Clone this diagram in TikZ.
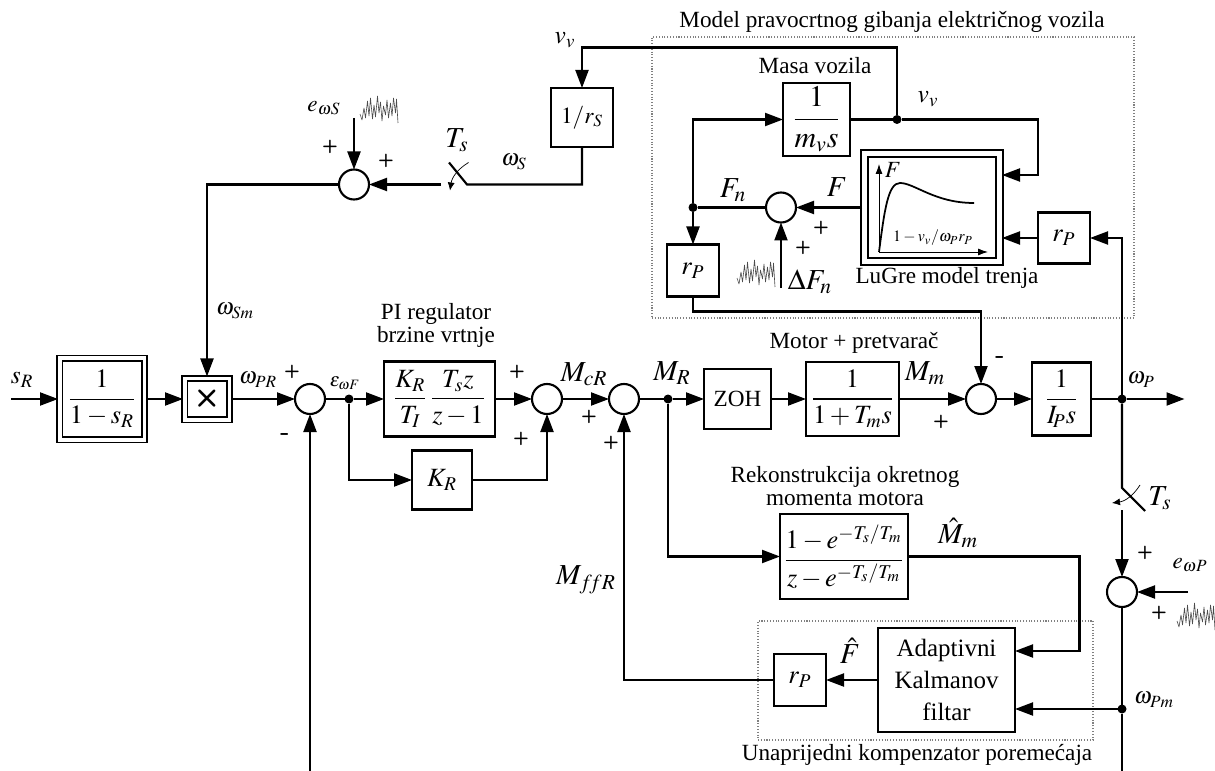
\documentclass[tikz,border=0pt]{standalone}
\usepackage{amsmath}
\usepackage{mathptmx}
\usepackage{fontspec}
\setmainfont{Liberation Serif}
\usepackage{tikz}
\usetikzlibrary{arrows.meta,positioning,calc}

\begin{document}
\begin{tikzpicture}[
        every node/.style={font=\fontsize{13.2}{13.5}\selectfont},
        box/.style 2 args={rectangle,draw,line width=1.2pt,inner sep=0pt,outer sep=0pt,minimum width=#1cm,minimum height=#2cm,align=center,font=\fontsize{15}{15}\selectfont},
        doublebox/.style 2 args={rectangle,draw,line width=1pt,double,double distance=#1cm,inner sep=0pt,outer sep=#1/2*1cm,minimum width=#2cm,align=center,font=\fontsize{15}{15}\selectfont},
        sumcircle/.style={circle,draw,line width=1.2pt,minimum size=0.6cm,inner sep=0pt,outer sep=0pt},
        dot/.style={circle,fill,minimum size=0.18cm,inner sep=0pt,outer sep=0pt},
        arrow/.style={-{Triangle[length=3.6mm,width=2.6mm]},line width=1.2pt},
        wire/.style={line width=1.2pt},
        swarrow/.style={-{Latex[length=1.6mm,width=1.4mm]},line width=0.4pt},
        axis/.style={-{Latex[length=2mm,width=1.4mm]},line width=0.5pt},
        lbl/.style={inner sep=0pt,outer sep=0pt},
        lblm/.style={inner sep=0pt,outer sep=0pt,font=\fontsize{14.5}{14.5}\selectfont},
        lblv/.style={inner sep=0pt,outer sep=0pt,font=\fontsize{16.5}{16.5}\selectfont},
        sign/.style={inner sep=0pt,outer sep=0pt,font=\sffamily\bfseries\fontsize{10.5}{10.5}\selectfont},
        minus/.style={inner sep=0pt,outer sep=0pt,font=\sffamily\bfseries\fontsize{15}{15}\selectfont},
        frame/.style={rectangle,draw=gray,densely dotted,line width=0.6pt,inner sep=0pt},
        noise/.pic={\draw[black!70,line width=0.35pt,line join=bevel]
            (0,0.18) -- (0.04,0.06) -- (0.08,0.30) -- (0.11,0.10) -- (0.15,0.44) -- (0.18,0.14) -- (0.21,0.50)
            -- (0.25,0.08) -- (0.28,0.36) -- (0.31,0.12) -- (0.35,0.54) -- (0.38,0.20) -- (0.41,0.42) -- (0.44,0.04)
            -- (0.47,0.34) -- (0.51,0.16) -- (0.54,0.46) -- (0.57,0.10) -- (0.61,0.40) -- (0.64,0.14) -- (0.67,0.50)
            -- (0.71,0.20) -- (0.73,0.48) -- (0.76,0);}
    ]
        \useasboundingbox (0,0) rectangle (24.3,-15.42);

        % glavna grana
        \coordinate (ulaz) at (0.22,-7.98);
        \node[doublebox={0.07}{1.69}, minimum height=1.63cm, right=0.94cm of ulaz] (rampa) {$\dfrac{1}{1-s_R}$};
        \node[doublebox={0.07}{0.89}, minimum height=0.83cm, right=0.74cm of rampa, font=\sffamily\bfseries\fontsize{18}{18}\selectfont] (mnozenje) {×};
        \node[sumcircle, right=1.28cm of mnozenje] (sumW) {};
        \node[dot, right=0.39cm of sumW] (cvorE) {};
        \node[box={2.22}{1.5}, right=0.61cm of cvorE] (pireg) {$\dfrac{K_R}{T_I}\,\dfrac{T_s z}{z-1}$};
        \node[sumcircle, right=0.74cm of pireg] (sumP) {};
        \node[sumcircle, right=0.94cm of sumP] (sumM) {};
        \node[dot, right=0.49cm of sumM] (cvorM) {};
        \node[box={1.34}{1.2}, right=0.63cm of cvorM, font=\fontsize{13.2}{13.5}\selectfont] (zoh) {ZOH};
        \node[box={1.86}{1.48}, right=0.7cm of zoh] (motor) {$\dfrac{1}{1+T_m s}$};
        \node[sumcircle, right=1.34cm of motor] (sumT) {};
        \node[box={1.18}{1.46}, right=0.72cm of sumT] (inercija) {$\dfrac{1}{I_{\!P} s}$};
        \node[dot, right=0.53cm of inercija] (cvorP) {};
        \coordinate[right=1.16cm of cvorP] (izlaz);

        \node[box={1.2}{1.18}, below=0.28cm of pireg, xshift=0.05cm] (kr) {$K_R$};

        % donja grana
        \node[box={2.56}{1.7}, below=1.56cm of motor, xshift=-0.17cm] (rekon) {$\dfrac{1-e^{-T_s/T_m}}{z-e^{-T_s/T_m}}$};
        \node[box={2.74}{2.08}, below=0.58cm of rekon, xshift=2.05cm, font=\fontsize{14.2}{18}\selectfont] (kalman) {Adaptivni\\Kalmanov\\filtar};
        \node[box={1.04}{1.04}, left=1.04cm of kalman] (rpF) {$r_P$};
        \coordinate (kalmanA) at ($(kalman.east)+(0,0.58)$);
        \coordinate (kalmanB) at ($(kalman.east)+(0,-0.58)$);
        \node[sumcircle, below=3.47cm of cvorP] (sumE) {};
        \node[dot] (cvorPm) at (cvorP |- kalmanB) {};
        \coordinate (dnoP) at ($(cvorP)+(0,-7.44)$);
        \coordinate (dnoW) at ($(sumW)+(0,-7.44)$);
        \coordinate (swPa) at ($(cvorP)+(0,-1.78)$);
        \coordinate (swPb) at ($(cvorP)+(0,-2.22)$);
        \coordinate (ulazEP) at ($(sumE)+(1.32,0)$);

        % gornja grana
        \node[sumcircle] (sumS) at ($(mnozenje)+(2.94,4.29)$) {};
        \node[box={1.24}{1.18}, font=\fontsize{13.2}{13.5}\selectfont] (rs) at ($(sumS)+(4.56,1.34)$) {$1/r_S$};
        \coordinate (swSr) at ($(sumS)+(2.26,0)$);
        \coordinate (swSl) at ($(sumS)+(1.74,0)$);
        \coordinate (ulazES) at ($(sumS)+(0,1.33)$);

        % model vozila
        \node[box={1.34}{1.46}, above=4.12cm of motor, xshift=-0.72cm, font=\fontsize{17}{17}\selectfont] (masa) {$\dfrac{1}{m_v s}$};
        \node[dot, right=0.85cm of masa] (cvorV) {};
        \node[doublebox={0.1}{2.7}, minimum height=2.16cm] (lugre) at ($(masa)+(2.31,-1.76)$) {};
        \node[sumcircle, left=1.32cm of lugre] (sumF) {};
        \node[dot, left=1.37cm of sumF] (cvorF) {};
        \node[box={1.04}{1.04}, below=0.65cm of cvorF] (rpL) {$r_P$};
        \node[box={1.04}{1.02}, right=0.72cm of lugre, yshift=-0.61cm] (rpD) {$r_P$};
        \coordinate (lugreA) at ($(lugre.east)+(0,0.65)$);
        \coordinate (lugreB) at (lugre.east |- rpD);
        \coordinate (ulazDF) at ($(sumF)+(0,-1.61)$);

        % okviri
        \node[frame, minimum width=9.64cm, minimum height=5.62cm] (okvirM) at ($(masa)+(1.53,-1.16)$) {};
        \node[frame, minimum width=6.7cm, minimum height=2.38cm] (okvirK) at ($(kalman)+(-0.42,-0.01)$) {};

        % karakteristika trenja
        \begin{scope}[shift={(lugre.center)}]
            \coordinate (osO) at (-1.06,-0.89);
            \draw[axis] (osO) -- (-1.06,0.87);
            \draw[axis] (osO) -- (1.12,-0.89);
            \draw[line width=1pt] (osO) .. controls (-0.95,-0.05) and (-0.88,0.49) .. (-0.64,0.49)
                .. controls (-0.35,0.49) and (0.05,0.09) .. (0.84,0.09);
            \node[lbl] (osF) at (-0.78,0.75) {$F$};
            \node[lbl, font=\fontsize{9}{9}\selectfont] (osX) at (0.02,-0.61) {$1-v_v/\omega_P r_P$};
        \end{scope}

        % veze
        \draw[arrow] (ulaz) -- (rampa);
        \draw[arrow] (rampa) -- (mnozenje);
        \draw[arrow] (mnozenje) -- (sumW);
        \draw[wire] (sumW) -- (cvorE);
        \draw[arrow] (cvorE) -- (pireg);
        \draw[arrow] (pireg) -- (sumP);
        \draw[arrow] (sumP) -- (sumM);
        \draw[wire] (sumM) -- (cvorM);
        \draw[arrow] (cvorM) -- (zoh);
        \draw[arrow] (zoh) -- (motor);
        \draw[arrow] (motor) -- (sumT);
        \draw[arrow] (sumT) -- (inercija);
        \draw[wire] (inercija) -- (cvorP);
        \draw[arrow] (cvorP) -- (izlaz);

        \draw[arrow] (cvorE) |- (kr.west);
        \draw[arrow] (kr.east) -| (sumP.south);
        \draw[arrow] (cvorM) |- (rekon.west);
        \draw[arrow] (rekon.east) -- ++(3.43,0) |- (kalmanA);
        \draw[arrow] (cvorPm) -- (kalmanB);
        \draw[arrow] (kalman.west) -- (rpF.east);
        \draw[arrow] (rpF.west) -| (sumM.south);
        \draw[arrow] (dnoW) -- (sumW.south);

        \draw[wire] (cvorP) -- (swPa) -- ++(0.46,-0.46);
        \draw[arrow] (swPb) -- (sumE.north);
        \draw[wire] (sumE.south) -- (cvorPm) -- (dnoP);
        \draw[arrow] (ulazEP) -- (sumE.east);
        \draw[swarrow] ($(swPa)+(0.36,0.06)$) to[bend left=25] ($(swPa)+(-0.20,-0.30)$);

        \draw[arrow] (sumS.west) -| (mnozenje.north);
        \draw[arrow] (ulazES) -- (sumS.north);
        \draw[arrow] (swSl) -- (sumS.east);
        \draw[wire] (rs.south) |- (swSr) -- ++(-0.36,0.44);
        \draw[swarrow] ($(swSr)+(0.03,0.44)$) to[bend right=25] ($(swSr)+(-0.34,-0.12)$);

        \draw[wire] (masa.east) -- (cvorV);
        \draw[arrow] (cvorV) -- ++(0,1.44) -| (rs.north);
        \draw[arrow] (cvorV) -- ++(2.82,0) |- (lugreA);
        \draw[arrow] (rpD.west) -- (lugreB);
        \draw[arrow] (cvorP) |- (rpD.east);
        \draw[arrow] (lugre.west) -- (sumF.east);
        \draw[wire] (sumF.west) -- (cvorF);
        \draw[arrow] (cvorF) |- (masa.west);
        \draw[arrow] (cvorF) -- (rpL.north);
        \draw[arrow] (ulazDF) -- (sumF.south);
        \draw[arrow] (rpL.south) -- ++(0,-0.3) -| (sumT.north);

        % sumovi
        \pic (sumA) at ($(sumS)+(0.12,1.23)$) {noise};
        \pic (sumB) at ($(sumF)+(-0.88,-1.59)$) {noise};
        \pic (sumC) at ($(sumE)+(1.10,-0.76)$) {noise};

        % oznake
        \node[lblm] (tSr) at ($(ulaz)+(0.22,0.38)$) {$s_R$};
        \node[lbl] (tWpr) at ($(mnozenje)+(1.02,0.38)$) {$\omega_{PR}$};
        \node[lbl, font=\fontsize{11}{11}\selectfont] (tEps) at ($(cvorE)+(-0.08,0.32)$) {$\varepsilon_{\omega F}$};
        \node[lbl,align=center] (tPi) at ($(pireg)+(-0.07,1.47)$) {PI regulator\\brzine vrtnje};
        \node[lblv] (tMcr) at ($(sumP)+(0.74,0.5)$) {$M_{cR}$};
        \node[lblv] (tMr) at ($(cvorM)+(0.08,0.52)$) {$M_R$};
        \node[lblv] (tMm) at ($(sumT)+(-1.12,0.52)$) {$M_m$};
        \node[lbl] (tWp) at ($(cvorP)+(0.38,0.38)$) {$\omega_P$};
        \node[lbl] (tMotor) at ($(motor)+(0.03,1.12)$) {Motor + pretvarač};
        \node[lbl,align=center] (tRekon) at ($(rekon)+(0.02,1.41)$) {Rekonstrukcija okretnog\\momenta motora};
        \node[lblv] (tMhat) at ($(rekon)+(2.28,0.47)$) {$\hat{M}_m$};
        \node[lblv] (tMff) at ($(sumM)+(-0.76,-3.62)$) {$M_{f\!fR}$};
        \node[lblv] (tFhat) at ($(rpF)+(1,0.58)$) {$\hat{F}$};
        \node[lbl] (tWpm) at ($(cvorPm)+(0.64,0.18)$) {$\omega_{Pm}$};
        \node[lbl] (tKomp) at ($(kalman)+(-0.59,-1.5)$) {Unaprijedni kompenzator poremećaja};
        \node[lbl] (tEwp) at ($(sumE)+(1.36,0.54)$) {$e_{\omega P}$};
        \node[lblv] (tTsP) at ($(swPa)+(0.76,-0.2)$) {$T_s$};
        \node[lbl] (tWsm) at ($(mnozenje)+(0.56,1.76)$) {$\omega_{Sm}$};
        \node[lbl] (tEws) at ($(sumS)+(-0.6,1.53)$) {$e_{\omega S}$};
        \node[lblv] (tTsS) at ($(sumS)+(2.06,0.89)$) {$T_s$};
        \node[lbl] (tWs) at ($(sumS)+(3.2,0.45)$) {$\omega_S$};
        \node[lblm] (tVvA) at ($(rs)+(-0.34,1.55)$) {$v_v$};
        \node[lbl] (tModel) at ($(masa)+(1.51,1.95)$) {Model pravocrtnog gibanja električnog vozila};
        \node[lbl] (tMasa) at ($(masa)+(-0.03,1.07)$) {Masa vozila};
        \node[lblm] (tVvB) at ($(masa)+(2.23,0.41)$) {$v_v$};
        \node[lblv] (tFn) at ($(sumF)+(-0.96,0.35)$) {$F_n$};
        \node[lblv] (tF) at ($(sumF)+(1.12,0.41)$) {$F$};
        \node[lblv] (tDf) at ($(sumF)+(0.58,-1.49)$) {$\Delta F_n$};
        \node[lbl] (tLugre) at ($(lugre)+(0.3,-1.41)$) {LuGre model trenja};

        % predznaci
        \node[sign] (pA) at ($(sumW)+(-0.36,0.54)$) {+};
        \node[minus] (mA) at ($(sumW)+(-0.5,-0.76)$) {-};
        \node[sign] (pB) at ($(sumP)+(-0.6,0.54)$) {+};
        \node[sign] (pC) at ($(sumP)+(-0.52,-0.8)$) {+};
        \node[sign] (pD) at ($(sumM)+(-0.7,-0.36)$) {+};
        \node[sign] (pE) at ($(sumM)+(-0.26,-0.88)$) {+};
        \node[sign] (pF) at ($(sumT)+(-0.8,-0.46)$) {+};
        \node[minus] (mB) at ($(sumT)+(0.38,0.78)$) {-};
        \node[sign] (pG) at ($(sumE)+(0.46,0.78)$) {+};
        \node[sign] (pH) at ($(sumE)+(0.74,-0.42)$) {+};
        \node[sign] (pI) at ($(sumS)+(-0.48,0.75)$) {+};
        \node[sign] (pJ) at ($(sumS)+(0.64,0.47)$) {+};
        \node[sign] (pK) at ($(sumF)+(0.8,-0.41)$) {+};
        \node[sign] (pL) at ($(sumF)+(0.44,-0.81)$) {+};
    \end{tikzpicture}
\end{document}
